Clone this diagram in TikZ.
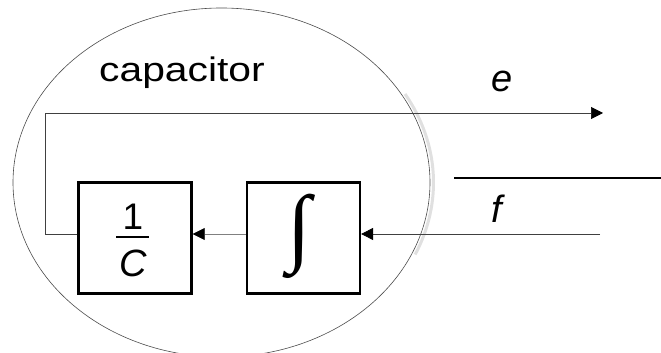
\documentclass[tikz,border=0pt]{standalone}
\usepackage{fontspec}
\setmainfont{Liberation Sans}
\newfontfamily\widefont[FakeStretch=1.2]{Liberation Sans}
\newfontfamily\intfont{Liberation Serif}
\usetikzlibrary{positioning}
\usetikzlibrary{arrows.meta}
\usetikzlibrary{calc}

\begin{document}
\begin{tikzpicture}[
    x=1pt, y=1pt,
    block/.style={draw, line width=2.4pt, minimum width=113pt, minimum height=111pt, inner sep=0pt},
    signal/.style={draw=black!75, line width=0.7pt, -{Triangle[length=12pt, width=12pt, color=black]}},
    symb/.style={font=\fontsize{38}{40}\selectfont\itshape, anchor=base}
]
    \useasboundingbox (0,0) rectangle (661,353);

    % Capacitor boundary
    \draw[black!12, line width=3pt] (221.5,170.5) ++(-24:212 and 177)
        arc [start angle=-24, end angle=30, x radius=212, y radius=177];
    \draw[black!70, line width=0.6pt] (221.5,170.5) ellipse [x radius=208.5, y radius=174.5];
    \node[font=\widefont\fontsize{34}{36}\selectfont, anchor=base] (title) at (182,271) {capacitor};

    % 1/C block
    \node[block] (C) at (135,115) {};
    \node[font=\fontsize{37}{40}\selectfont, anchor=base] (one) at ($(C.center)+(-2,8)$) {1};
    \node[font=\fontsize{38}{40}\selectfont\itshape, anchor=base] (cee) at ($(C.center)+(-2,-39)$) {C};
    \draw[line width=2.8pt] ($(C.center)+(-19,1)$) -- ($(C.center)+(14,1)$);

    % Integrator block
    \node[block, right=53pt of C] (I) {};
    \node[font=\intfont\bfseries\fontsize{86}{86}\selectfont] (int) at ($(I.center)+(-4,2)$) {∫};

    % Signals
    \coordinate (fin) at (600,119);
    \coordinate (eout) at (603,240);
    \draw[signal] (fin) -- (I.east |- fin);
    \draw[signal, draw=black!50] (I.west |- fin) -- (C.east |- fin);
    \draw[signal] (C.west |- fin) -- ++(-32,0) |- (eout);

    % Bond
    \coordinate (bl) at (454,175);
    \coordinate (br) at (661,175);
    \draw[line width=2.6pt] (bl) -- (br);
    \node[symb] (e) at (502,261) {e};
    \node[symb] (f) at (497,130) {f};
\end{tikzpicture}
\end{document}
